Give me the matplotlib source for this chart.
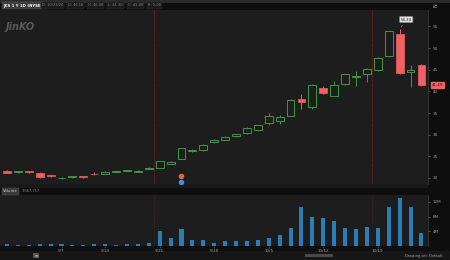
import numpy as np
import matplotlib
matplotlib.use("Agg")
import matplotlib.pyplot as plt
from matplotlib.patches import Rectangle

# JKS daily candles, 8/31/2020 - 10/23/2020
dates = ["8/31", "9/1", "9/2", "9/3", "9/4", "9/8", "9/9", "9/10", "9/11",
         "9/14", "9/15", "9/16", "9/17", "9/18", "9/21", "9/22", "9/23", "9/24", "9/25",
         "9/28", "9/29", "9/30", "10/1", "10/2", "10/5", "10/6", "10/7", "10/8", "10/9",
         "10/12", "10/13", "10/14", "10/15", "10/16", "10/19", "10/20", "10/21", "10/22", "10/23"]
opens = [21.6, 21.3, 21.6, 21.24, 20.6, 19.9, 20.2, 20.4, 21.0,
         20.93, 21.4, 21.6, 21.4, 22.1, 22.27, 23.3, 24.37, 26.2, 26.38,
         28.25, 28.88, 29.65, 30.4, 31.0, 32.6, 33.2, 34.32, 38.2, 36.5,
         40.7, 39.0, 41.7, 43.25, 44.06, 44.83, 48.27, 53.17, 44.46, 46.16]
highs = [21.8, 21.7, 21.7, 21.4, 20.7, 20.2, 20.5, 20.5, 21.4,
         21.6, 21.7, 21.9, 21.8, 22.5, 23.9, 23.9, 27.0, 26.7, 27.9,
         28.9, 29.6, 30.2, 31.8, 32.3, 35.0, 34.6, 38.2, 39.4, 41.6,
         41.2, 42.5, 44.3, 44.6, 45.3, 48.0, 54.0, 54.34, 46.0, 46.3]
lows = [21.1, 21.2, 21.2, 20.0, 20.3, 19.8, 20.1, 20.1, 20.7,
        20.9, 21.3, 21.5, 21.3, 22.0, 22.2, 23.2, 24.3, 26.1, 26.3,
        28.1, 28.8, 29.5, 30.2, 30.9, 32.3, 32.5, 34.2, 35.9, 36.0,
        39.3, 38.9, 41.5, 41.33, 42.26, 44.7, 48.0, 44.1, 40.95, 41.3]
closes = [21.2, 21.6, 21.3, 20.16, 20.4, 20.1, 20.4, 20.2, 20.8,
          21.47, 21.6, 21.8, 21.6, 22.4, 23.81, 23.7, 26.94, 26.5, 27.71,
          28.71, 29.41, 30.04, 31.6, 32.15, 34.25, 34.0, 38.06, 37.6, 41.5,
          39.6, 41.5, 44.06, 43.6, 45.07, 47.8, 53.87, 44.3, 44.83, 41.49]
# volume in millions of shares
volumes = [0.5, 0.3, 0.3, 0.6, 0.5, 0.5, 0.3, 0.3, 0.6,
           0.5, 0.4, 0.5, 0.5, 0.7, 4.1, 2.2, 4.7, 1.7, 1.6,
           0.9, 1.4, 1.4, 1.4, 1.6, 2.2, 3.0, 5.0, 10.7, 8.0,
           7.7, 6.9, 5.0, 4.7, 5.2, 5.0, 10.5, 13.2, 10.7, 3.6]

date_ticks = [5, 9, 14, 19, 24, 29, 34]
date_labels = ["9/7", "9/14", "9/21", "9/28", "10/5", "10/12", "10/19"]
price_ticks = [20, 25, 30, 35, 40, 45, 50, 55]
vol_ticks = [4, 8, 12]
vol_labels = ["4M", "8M", "12M"]
expiry_lines = [13.5, 33.5]

GREEN = "#3c9a45"
RED = "#f06262"
BLUE = "#2b7db5"
PANEL = "#1d1d1d"
TXT = "#9a9a9a"

W, H = 450, 260
fig = plt.figure(figsize=(4.5, 2.6), dpi=100)
fig.patch.set_facecolor("#0e0e0e")

def fbox(x, y, w, h, color):
    # rectangle in pixel coords (top-left origin)
    fig.add_artist(Rectangle((x / W, 1 - (y + h) / H), w / W, h / H,
                             transform=fig.transFigure, color=color, lw=0, zorder=0))

fbox(0, 0, 450, 3, "#2a2a2a")
fbox(0, 184, 428, 4, "#191919")
fbox(0, 251, 450, 9, "#161616")

x = np.arange(len(dates))
o = np.array(opens); c = np.array(closes)
hi = np.array(highs); lo = np.array(lows)
up = c >= o
top = np.maximum(o, c); bot = np.minimum(o, c)

# price panel
ax = fig.add_axes([0, 1 - 184 / H, 428 / W, 174 / H])
ax.set_facecolor(PANEL)
ax.set_xlim(-0.64, 38.6)
ax.set_ylim(18.6, 58.8)
ax.vlines(x, top, hi, color=np.where(up, GREEN, RED), lw=0.7)
ax.vlines(x, lo, bot, color=np.where(up, GREEN, RED), lw=0.7)
ax.bar(x[up], (c - o)[up], bottom=o[up], width=0.72, facecolor="none",
       edgecolor=GREEN, linewidth=0.7)
ax.bar(x[~up], (o - c)[~up], bottom=c[~up], width=0.72, facecolor=RED,
       edgecolor=RED, linewidth=0.5)
for e in expiry_lines:
    ax.axvline(e, color="#8a2a2a", lw=0.6, ls=(0, (2, 1)), alpha=0.8)

# earnings / event markers under 9/23
ax.scatter([16], [20.45], s=9, color="#e0643c", zorder=5)
ax.scatter([16], [19.15], s=9, color="#3c8ce0", zorder=5)

# high bubble
ax.annotate("54.34", xy=(36, 54.34), xytext=(36.6, 56.6), fontsize=2.8,
            color="#222222", ha="center", va="center",
            bbox=dict(boxstyle="round,pad=0.3", fc="#e0e0e0", ec="#777777", lw=0.4),
            arrowprops=dict(arrowstyle="-", color="#aaaaaa", lw=0.4))
# last price label
ax.annotate("41.49", xy=(1.0, c[-1]), xycoords=("axes fraction", "data"),
            xytext=(3, 0), textcoords="offset points", fontsize=2.8, color="#3a1010",
            va="center", ha="left",
            bbox=dict(boxstyle="square,pad=0.25", fc=RED, ec=RED))

ax.yaxis.tick_right()
ax.set_yticks(price_ticks)
ax.set_yticklabels([str(p) for p in price_ticks])
ax.tick_params(axis="y", colors="#777777", labelcolor=TXT, labelsize=3, length=1.5, width=0.5, pad=2)
ax.set_xticks([])
for s in ax.spines.values():
    s.set_visible(False)
ax.spines["right"].set_visible(True)
ax.spines["right"].set_color("#3a3a3a")
ax.spines["right"].set_linewidth(0.6)
ax.text(0.012, 0.90, "JinKO", transform=ax.transAxes, fontsize=7, color="#5a5a5a",
        style="italic", fontweight="bold", va="center")

# volume panel
vax = fig.add_axes([0, 1 - 246 / H, 428 / W, 51 / H])
vax.set_facecolor(PANEL)
vax.set_xlim(-0.64, 38.6)
vax.set_ylim(0, 13.9)
vax.bar(x, volumes, width=0.37, color=BLUE)
for e in expiry_lines:
    vax.axvline(e, color="#5a2a2a", lw=0.5, ls=(0, (2, 1)), alpha=0.6)
vax.yaxis.tick_right()
vax.set_yticks(vol_ticks)
vax.set_yticklabels(vol_labels)
vax.set_xticks(date_ticks)
vax.set_xticklabels(date_labels)
vax.tick_params(axis="y", colors="#777777", labelcolor=TXT, labelsize=3, length=1.5, width=0.5, pad=2)
vax.tick_params(axis="x", colors="#555555", labelcolor=TXT, labelsize=3, length=1.5, width=0.5, pad=1)
for s in vax.spines.values():
    s.set_visible(False)
vax.spines["right"].set_visible(True)
vax.spines["right"].set_color("#3a3a3a")
vax.spines["right"].set_linewidth(0.6)

# header texts
fig.text(3 / W, 1 - 5.5 / H, "JKS 1 Y 1D (NYSE)", fontsize=2.8, color="#ffffff",
         fontweight="bold", va="center",
         bbox=dict(boxstyle="square,pad=0.3", fc="#3a3a3a", ec="#666666", lw=0.3))
hdr = ["D: 10/23/20", "O: 46.16", "H: 46.30", "L: 41.30", "C: 41.49", "R: 5.00"]
hx = 42
for t in hdr:
    fig.text(hx / W, 1 - 5.5 / H, t, fontsize=2.6, color="#8a8a8a", va="center",
             bbox=dict(boxstyle="square,pad=0.3", fc="#1a1a1a", ec="#333333", lw=0.3))
    hx += 20 if len(t) < 10 else 26
fig.text(434 / W, 1 - 5 / H, "N", fontsize=3.5, color="#bbbbbb", va="center", rotation=90)

fig.text(3 / W, 1 - 191.5 / H, "Volume", fontsize=2.8, color="#cccccc", va="center",
         bbox=dict(boxstyle="square,pad=0.3", fc="#3a3a3a", ec="#555555", lw=0.3))
fig.text(22 / W, 1 - 191.5 / H, "3,567,757", fontsize=2.6, color="#8a8a8a", va="center")

fig.text(36 / W, 1 - 255.5 / H, "\u2261", fontsize=3, color="#bbbbbb", va="center", ha="center",
         bbox=dict(boxstyle="square,pad=0.2", fc="#555555", ec="none"))
fbox(305, 254, 28, 3, "#4a4a4a")
fig.text(405 / W, 1 - 255.5 / H, "Drawing set: Default", fontsize=2.6, color="#aaaaaa", va="center")

fig.savefig("out.png", dpi=100, facecolor=fig.get_facecolor())
